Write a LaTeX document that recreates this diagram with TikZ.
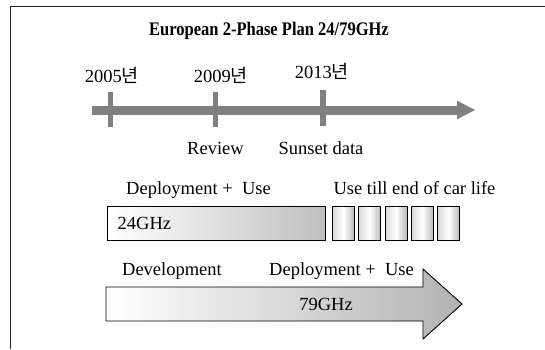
\documentclass[tikz,border=0pt]{standalone}
\usepackage{fontspec}
\setmainfont{Liberation Serif}
\newfontfamily\kor{Noto Sans CJK KR}
\usetikzlibrary{shapes.geometric}
\definecolor{axisgray}{HTML}{808080}
\tikzset{
  txt/.style={inner sep=0pt, anchor=base, font=\fontsize{18.5}{22}\selectfont},
  frameline/.style={line width=1.2pt, draw=black!85},
  tickline/.style={line width=5.6pt, draw=axisgray},
  barbox/.style={draw=black, line width=0.9pt},
}
\begin{document}
\begin{tikzpicture}[x=1pt,y=-1pt]
\useasboundingbox (0,0) rectangle (545,349);
\fill[white] (0,0) rectangle (545,349);
% frame
\draw[frameline] (10.5,349) -- (10.5,6.5) -- (545,6.5);
% title
\node[txt] (title) at (269,35.7) {\scalebox{0.86}[1]{\fontsize{19.2}{22}\selectfont\bfseries European 2-Phase Plan 24/79GHz}};
% timeline
\coordinate (tstart) at (92,110);
\coordinate (tbase) at (457,110);
\draw[line width=9pt, draw=axisgray] (tstart) -- (tbase);
\fill[axisgray] (457,100.7) -- (475,110) -- (457,119.3) -- cycle;
\draw[tickline] (110.5,91.7) -- (110.5,127.3);
\draw[tickline] (215.5,91.7) -- (215.5,127.3);
\draw[tickline] (323,90) -- (323,125.7);
\node[txt] (y2005) at (112,82) {2005{\kor 년}};
\node[txt] (y2009) at (221,82) {2009{\kor 년}};
\node[txt] (y2013) at (322,78) {2013{\kor 년}};
\node[txt] (review) at (215.5,154) {Review};
\node[txt] (sunset) at (321,154) {Sunset data};
% 24 GHz row
\node[txt] (dep1) at (198.5,194) {Deployment +\ \ Use};
\node[txt] (usetill) at (414.5,194) {Use till end of car life};
\draw[barbox, left color=white, right color=gray!50] (107,206) rectangle (325,240);
\node[txt, anchor=base west] (g24) at (117.5,229) {24GHz};
\foreach \i in {0,...,4}{
  \draw[barbox, left color=gray!30, right color=gray!55, middle color=white]
    (332.3+26.35*\i,206) rectangle (354.3+26.35*\i,240);
}
% 79 GHz arrow
\node[txt] (devel) at (172,275) {Development};
\node[txt] (dep2) at (341.5,275) {Deployment +\ \ Use};
\draw[barbox, left color=white, right color=gray!60]
  (106,287) -- (423,287) -- (423,269) -- (462,304) -- (423,339) -- (423,321) -- (106,321) -- cycle;
\node[txt] (g79) at (326,310) {79GHz};
\end{tikzpicture}
\end{document}
